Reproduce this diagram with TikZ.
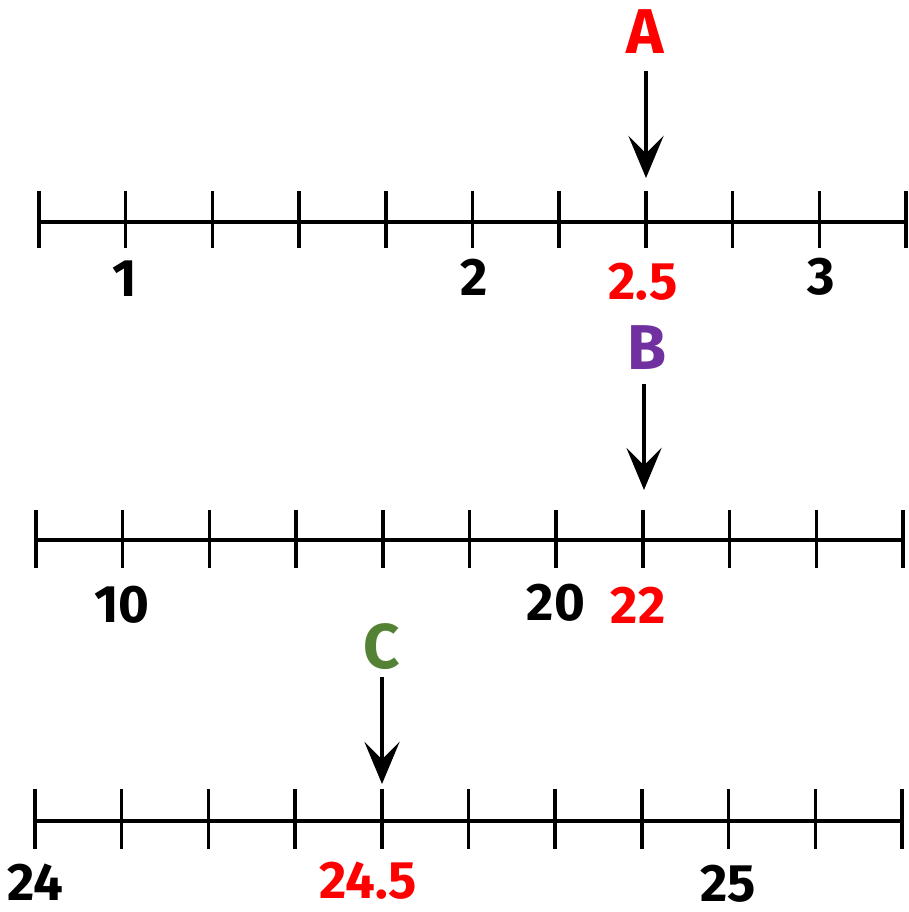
\documentclass[tikz,border=0pt]{standalone}
\usepackage{fontspec}
\setmainfont{Fira Sans}
\usetikzlibrary{arrows.meta}
\definecolor{markred}{RGB}{255,0,0}
\definecolor{markpurple}{RGB}{112,48,160}
\definecolor{markgreen}{RGB}{84,130,53}
\tikzset{
  axis/.style={line width=1.1pt},
  tick/.style={line width=1pt},
  pointer/.style={line width=1.2pt, -{Stealth[length=12pt,width=10pt,inset=5pt]}},
  num/.style={font=\fontsize{15}{15}\selectfont\bfseries, inner sep=0pt},
  letter/.style={font=\fontsize{18}{18}\selectfont\bfseries, inner sep=0pt}
}
\begin{document}
\begin{tikzpicture}[x=0.01cm, y=-0.01cm]
  \useasboundingbox (0,0) rectangle (908,912);
  % Number line A -- 1 to 3
  \draw[axis] (39,222) -- (906,222);
  \foreach \i in {0,...,10} \draw[tick] (39+\i*86.7,191) -- ++(0,57);
  \node[num] (one) at (125,279) {1};
  \node[num] (two) at (474,277) {2};
  \node[num, text=markred] (twohalf) at (643,282) {2.5};
  \node[num] (three) at (821,277) {3};
  % Point A
  \node[letter, text=markred] (A) at (645,32) {A};
  \coordinate (Atail) at (646,71);
  \coordinate (Ahead) at (646,178);
  \draw[pointer] (Atail) -- (Ahead);
  % Number line B -- 10 to 20
  \draw[axis] (36,540) -- (903,540);
  \foreach \i in {0,...,10} \draw[tick] (36+\i*86.7,510) -- ++(0,58);
  \node[num] (ten) at (122,605) {10};
  \node[num] (twenty) at (556,603) {20};
  \node[num, text=markred] (twentytwo) at (638,605) {22};
  % Point B
  \node[letter, text=markpurple] (B) at (647,348) {B};
  \coordinate (Btail) at (644,384);
  \coordinate (Bhead) at (644,490);
  \draw[pointer] (Btail) -- (Bhead);
  % Number line C -- 24 to 25
  \draw[axis] (35,821) -- (902,821);
  \foreach \i in {0,...,10} \draw[tick] (35+\i*86.7,789) -- ++(0,60);
  \node[num] (tfour) at (35,882) {24};
  \node[num, text=markred] (tfourhalf) at (368,881) {24.5};
  \node[num] (tfive) at (728,884) {25};
  % Point C
  \node[letter, text=markgreen] (C) at (382,647) {C};
  \coordinate (Ctail) at (382,677);
  \coordinate (Chead) at (382,784);
  \draw[pointer] (Ctail) -- (Chead);
\end{tikzpicture}
\end{document}
